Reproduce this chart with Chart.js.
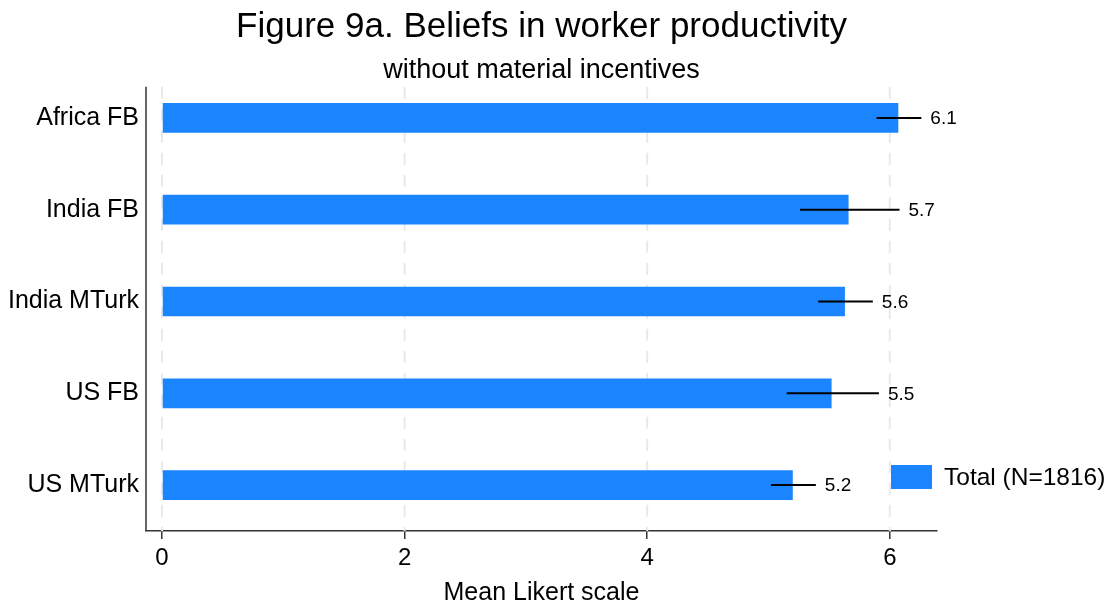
<!DOCTYPE html>
<html>
<head>
<meta charset="utf-8">
<script src="https://cdn.jsdelivr.net/npm/chart.js@4"></script>
<style>
  html, body { margin: 0; padding: 0; background: #fff; }
  #wrap { width: 1113px; height: 608px; }
</style>
</head>
<body>
<div id="wrap"><canvas id="chart"></canvas></div>
<script>
const groups = ['Africa FB', 'India FB', 'India MTurk', 'US FB', 'US MTurk'];
const means = [6.07, 5.66, 5.63, 5.52, 5.20];
const ciLow = [5.89, 5.26, 5.41, 5.15, 5.02];
const ciHigh = [6.26, 6.08, 5.86, 5.91, 5.39];
const xTicks = [0, 2, 4, 6];
const seriesName = 'Total (N=1816)';

const FONT = "'Liberation Sans', Arial, Helvetica, sans-serif";
const BLUE = '#1a85ff';

// axis line + dashed grid, drawn from a bit below the chart top like the stata output
const framePlugin = {
  id: 'frame',
  beforeDatasetsDraw(chart) {
    const {ctx, chartArea, scales} = chart;
    const step = chartArea.height / groups.length;
    const top = chartArea.top + step * 0.16;
    ctx.save();
    ctx.strokeStyle = '#e9e9e9';
    ctx.lineWidth = 2;
    ctx.setLineDash([12, 10]);
    xTicks.forEach(v => {
      const x = scales.x.getPixelForValue(v);
      ctx.beginPath();
      ctx.moveTo(x, top);
      ctx.lineTo(x, chartArea.bottom);
      ctx.stroke();
    });
    ctx.setLineDash([]);
    ctx.strokeStyle = '#333';
    ctx.lineWidth = 1.5;
    ctx.beginPath();
    ctx.moveTo(chartArea.left, top);
    ctx.lineTo(chartArea.left, chartArea.bottom);
    ctx.stroke();
    ctx.restore();
  }
};

// confidence intervals and value labels
const errorPlugin = {
  id: 'errors',
  afterDatasetsDraw(chart) {
    const {ctx, scales} = chart;
    ctx.save();
    ctx.strokeStyle = '#000';
    ctx.lineWidth = 2;
    ctx.fillStyle = '#000';
    ctx.font = '19px ' + FONT;
    ctx.textBaseline = 'middle';
    ctx.textAlign = 'left';
    groups.forEach((g, i) => {
      const y = scales.y.getPixelForValue(i);
      const x1 = scales.x.getPixelForValue(ciLow[i]);
      const x2 = scales.x.getPixelForValue(ciHigh[i]);
      ctx.beginPath();
      ctx.moveTo(x1, y);
      ctx.lineTo(x2, y);
      ctx.stroke();
      ctx.fillText(means[i].toFixed(1), x2 + 9, y + 1);
    });
    ctx.restore();
  }
};

// legend sits inside the plot, bottom right
const legendPlugin = {
  id: 'boxLegend',
  afterDraw(chart) {
    const {ctx, chartArea} = chart;
    const x = chartArea.right - 46;
    const y = chartArea.bottom - 54;
    ctx.save();
    ctx.fillStyle = BLUE;
    ctx.fillRect(x, y - 12, 41, 24);
    ctx.fillStyle = '#000';
    ctx.font = '24.5px ' + FONT;
    ctx.textBaseline = 'middle';
    ctx.fillText(chart.data.datasets[0].label, x + 53, y + 1);
    ctx.restore();
  }
};

new Chart(document.getElementById('chart'), {
  type: 'bar',
  data: {
    labels: groups,
    datasets: [{
      label: seriesName,
      data: means,
      backgroundColor: BLUE,
      borderWidth: 0,
      categoryPercentage: 1,
      barPercentage: 0.323
    }]
  },
  options: {
    indexAxis: 'y',
    responsive: true,
    maintainAspectRatio: false,
    animation: false,
    layout: { padding: { left: 0, right: 176, top: 0, bottom: 0 } },
    plugins: {
      legend: { display: false },
      tooltip: { enabled: false },
      title: {
        display: true,
        fullSize: false,
        text: 'Figure 9a. Beliefs in worker productivity',
        color: '#000',
        font: { family: FONT, size: 35, weight: 'normal', lineHeight: 1.2 },
        padding: { top: 6, bottom: 0 }
      },
      subtitle: {
        display: true,
        fullSize: false,
        text: 'without material incentives',
        color: '#000',
        font: { family: FONT, size: 27, weight: 'normal', lineHeight: 1.2 },
        padding: { top: 6, bottom: -14.4 }
      }
    },
    scales: {
      x: {
        type: 'linear',
        min: -0.132,
        max: 6.389,
        afterFit(scale) { scale.height = 77; },
        afterBuildTicks(scale) { scale.ticks = xTicks.map(v => ({ value: v })); },
        border: { display: true, color: '#333', width: 1.5 },
        grid: { drawOnChartArea: false, drawTicks: true, tickLength: 8, color: '#333', lineWidth: 1.5 },
        ticks: {
          color: '#000',
          padding: 5,
          font: { family: FONT, size: 24 }
        },
        title: {
          display: true,
          text: 'Mean Likert scale',
          color: '#000',
          font: { family: FONT, size: 25 },
          padding: { top: 0, bottom: 0 }
        }
      },
      y: {
        type: 'category',
        afterFit(scale) { scale.width = 146; },
        border: { display: false },
        grid: { display: false, drawTicks: false },
        ticks: {
          color: '#000',
          padding: 7,
          font: { family: FONT, size: 25 }
        }
      }
    }
  },
  plugins: [framePlugin, errorPlugin, legendPlugin]
});
</script>
</body>
</html>
